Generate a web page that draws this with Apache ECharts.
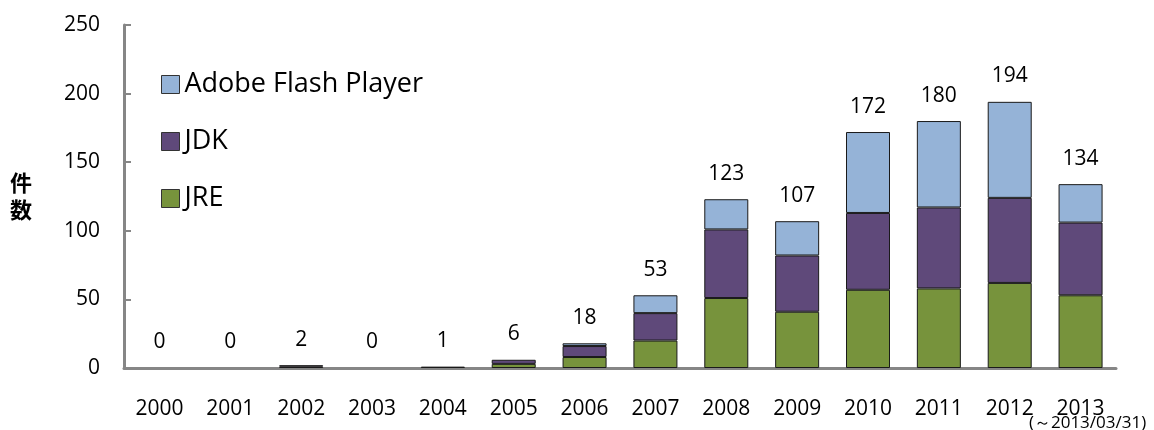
<!DOCTYPE html>
<html>
<head>
<meta charset="utf-8">
<script src="https://cdn.jsdelivr.net/npm/echarts@6/dist/echarts.min.js"></script>
<style>
html,body{margin:0;padding:0;background:#fff;}
#chart{width:1154px;height:430px;}
</style>
</head>
<body>
<div id="chart"></div>
<script>
const categories = ['2000','2001','2002','2003','2004','2005','2006','2007','2008','2009','2010','2011','2012','2013'];
const jre   = [0,0,1,0,1,3,8,20,51,41,57,58,62,53];
const jdk   = [0,0,1,0,0,3,8,20,50,41,56,59,62,53];
const flash = [0,0,0,0,0,0,2,13,22,25,59,63,70,28];
const totals = [0,0,2,0,1,6,18,53,123,107,172,180,194,134];
const yTicks = [0,50,100,150,200,250];
const lastNote = '(～2013/03/31)';

const FONT = '"Open Sans", "Noto Sans", sans-serif';
const chart = echarts.init(document.getElementById('chart'));
const barW = 44;
const border = {borderColor:'#1a1a1a', borderWidth:1};
const hideZero = arr => arr.map(v => v === 0 ? '-' : v);

chart.setOption({
  animation:false,
  textStyle:{fontFamily:FONT},
  grid:{left:124,right:38,top:25,bottom:62, containLabel:false, outerBoundsMode:'none'},
  legend:{
    data:['Adobe Flash Player','JDK','JRE'],
    orient:'vertical', left:156, top:66,
    icon:'rect', itemWidth:18, itemHeight:18, itemGap:30,
    textStyle:{fontSize:27, color:'#000', fontFamily:FONT},
    itemStyle:{borderColor:'#333', borderWidth:1}
  },
  xAxis:{
    type:'category', data:categories,
    axisLine:{lineStyle:{color:'#868686', width:3}},
    axisTick:{inside:true, length:8, lineStyle:{color:'#868686', width:2}},
    axisLabel:{
      fontSize:21, color:'#000', margin:30, interval:0, lineHeight:22,
      formatter:function(v, i){ return i === categories.length-1 ? '{y|' + v + '}\n{s|' + lastNote + '}' : v; },
      rich:{
        y:{fontSize:21, lineHeight:22, color:'#000', fontFamily:FONT},
        s:{fontSize:17, lineHeight:6, color:'#000', padding:[0,0,0,14], fontFamily:FONT}
      }
    }
  },
  yAxis:{
    type:'value', min:yTicks[0], max:yTicks[yTicks.length-1], interval:50,
    name:'件\n数', nameLocation:'middle', nameRotate:0, nameGap:92,
    nameTextStyle:{fontSize:22, fontWeight:'bold', color:'#000', fontFamily:'"Noto Sans CJK JP", sans-serif', lineHeight:27},
    axisLine:{show:true, lineStyle:{color:'#868686', width:3}},
    axisTick:{show:true, inside:true, length:7, lineStyle:{color:'#868686', width:2}},
    axisLabel:{fontSize:21, color:'#000', margin:24},
    splitLine:{show:false}
  },
  series:[
    {name:'JRE', type:'bar', stack:'a', data:hideZero(jre), barWidth:barW, itemStyle:Object.assign({color:'#77933C'}, border)},
    {name:'JDK', type:'bar', stack:'a', data:hideZero(jdk), barWidth:barW, itemStyle:Object.assign({color:'#5F497A'}, border)},
    {name:'Adobe Flash Player', type:'bar', stack:'a', data:hideZero(flash), barWidth:barW, itemStyle:Object.assign({color:'#95B3D7'}, border)},
    {name:'total', type:'bar', data:totals, barWidth:barW, barGap:'-100%', z:1,
      itemStyle:{color:'rgba(0,0,0,0)', borderWidth:0},
      label:{show:true, position:'top', distance:15, fontSize:21, color:'#000', fontFamily:FONT}
    }
  ]
});
</script>
</body>
</html>
